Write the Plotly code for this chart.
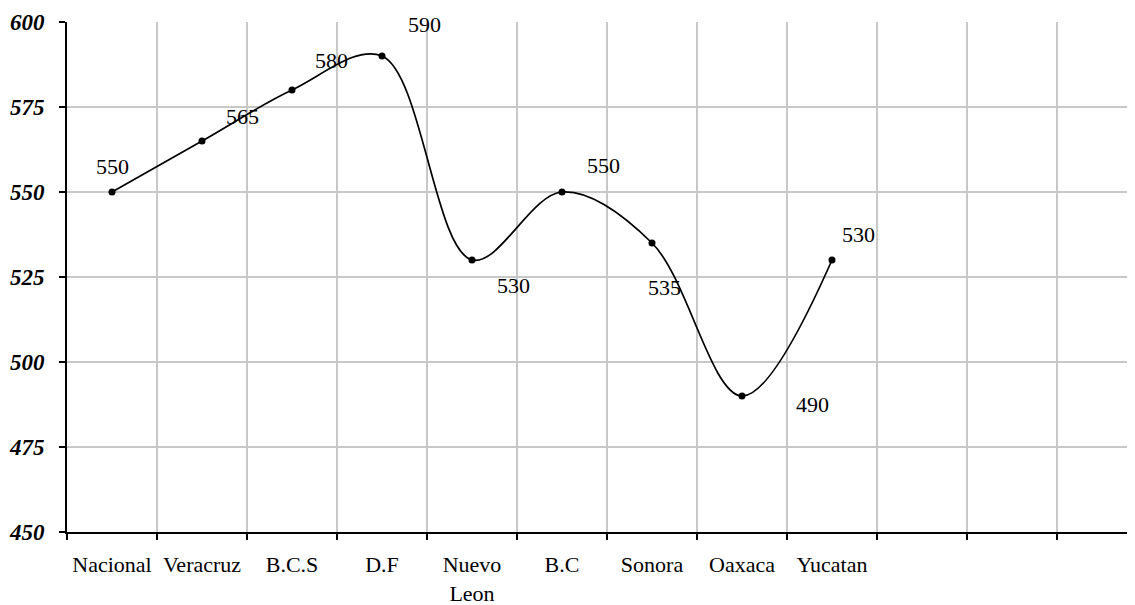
import plotly.graph_objects as go

categories = ["Nacional", "Veracruz", "B.C.S", "D.F", "Nuevo<br>Leon", "B.C", "Sonora", "Oaxaca", "Yucatan"]
empty_slots = [" ", "  ", "   "]
values = [550, 565, 580, 590, 530, 550, 535, 490, 530]
y_ticks = [450, 475, 500, 525, 550, 575, 600]

# label placement offsets (pixels), styling only
label_dx = [0, 40, 39, 42, 41, 41, 12, 70, 26]
label_dy = [26, 25, 30, 32, -25, 27, -44, -8, 26]

serif = "Liberation Serif, Times New Roman, serif"

fig = go.Figure()
fig.add_trace(go.Scatter(
    x=categories, y=values, mode="lines+markers",
    line=dict(color="black", width=1.7, shape="spline", smoothing=1.0),
    marker=dict(color="black", size=7),
    showlegend=False, cliponaxis=False,
))

for c, v, dx, dy in zip(categories, values, label_dx, label_dy):
    fig.add_annotation(x=c, y=v, text=str(v), showarrow=False,
                       xshift=dx, yshift=dy,
                       font=dict(family=serif, size=22, color="black"))

all_cats = categories + empty_slots
fig.update_xaxes(
    type="category", categoryorder="array", categoryarray=all_cats,
    tickmode="array", tickvals=all_cats, ticktext=all_cats,
    range=[-0.5, -0.5 + 1068 / 90], automargin=False,
    tickson="boundaries", ticks="outside", ticklen=6, tickwidth=2, tickcolor="black",
    showgrid=True, gridcolor="#c8c8c8", gridwidth=1.5,
    showline=True, linecolor="black", linewidth=2,
    tickfont=dict(family=serif, size=22, color="black"),
    ticklabelstandoff=12,
    zeroline=False,
)
fig.update_yaxes(
    range=[450, 600], tickmode="array", tickvals=y_ticks, automargin=False,
    ticktext=[f"<b><i>{t}</i></b>" for t in y_ticks],
    ticks="outside", ticklen=6, tickwidth=2, tickcolor="black",
    showgrid=True, gridcolor="#c8c8c8", gridwidth=1.5,
    showline=True, linecolor="black", linewidth=2,
    tickfont=dict(family=serif, size=23, color="black"),
    ticklabelstandoff=10,
    zeroline=False,
)
fig.update_layout(
    width=1127, height=597,
    margin=dict(l=59, r=0, t=14, b=73),
    plot_bgcolor="white", paper_bgcolor="white",
)
fig.write_html("out.html")
